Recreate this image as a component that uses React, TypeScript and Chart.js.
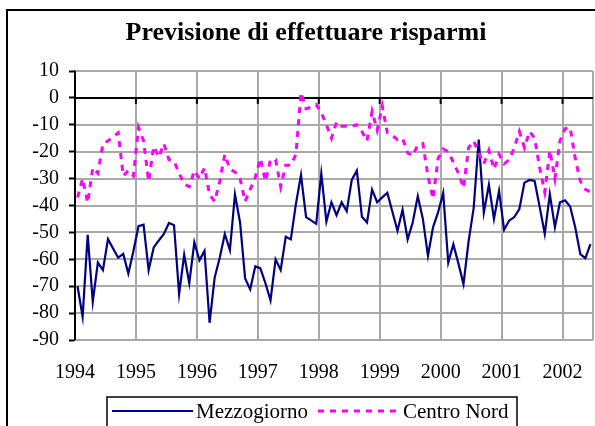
import React, { useEffect, useRef } from 'react';
import { Chart, registerables } from 'chart.js';

Chart.register(...registerables);

const TITLE = 'Previsione di effettuare risparmi';
const YEARS = ['1994', '1995', '1996', '1997', '1998', '1999', '2000', '2001', '2002'];
const MONTHS_PER_YEAR = 12;
const Y_MIN = -90;
const Y_MAX = 10;
const Y_STEP = 10;

// Monthly values, Jan 1994 - Jun 2002
const MEZZOGIORNO = [
  -70, -81.4, -50.9, -75.8, -61.2, -64, -52.5, -56, -59.4, -58, -65.3, -57,
  -47.7, -47.1, -64, -55.6, -53, -50.6, -46.5, -47.3, -72.9, -58.3, -68.9, -53.7,
  -60.4, -56.9, -83.6, -66.8, -59.4, -50.6, -56.6, -35.9, -46.3, -67.1, -71.2, -62.6,
  -63.4, -68.9, -75.3, -60, -64, -51.6, -52.6, -39.4, -28.7, -44.3, -45.5, -46.8,
  -28.1, -46, -38.8, -43.6, -38.8, -42.1, -30.5, -27, -44.2, -46.3, -34.1, -38.8,
  -37, -35.3, -42.3, -49.4, -41.6, -52.6, -46.3, -36.5, -45, -58.7, -48.1, -42.5,
  -35.3, -61.2, -54.4, -61.6, -69.2, -53.3, -41, -15.5, -42.7, -32.3, -45, -34.6,
  -49, -45.6, -44.3, -41.3, -31.5, -30.5, -30.9, -40.5, -50.6, -35.8, -48.1, -38.8,
  -38.1, -40.4, -48.1, -58.1, -59.6, -54.4,
];

const CENTRO_NORD = [
  -37, -30, -39, -26, -28, -17, -16, -14.5, -13, -29, -27, -29,
  -11, -16, -31, -18, -22, -17, -23, -23.5, -28, -32, -33, -27,
  -30, -26, -36, -38.5, -31, -21, -26.5, -27.5, -30, -38.5, -34, -29.5,
  -22.5, -31, -23, -23, -33, -25, -25, -21, 2, -4, -3.5, -2.5,
  -5.5, -10, -15, -9, -10.5, -10.5, -10.5, -10, -12.5, -16, -5, -12,
  -3, -13, -14, -15.5, -15, -20.5, -21.5, -17.5, -17, -29, -37.5, -22.5,
  -19, -20, -24, -28, -33.5, -18.5, -16, -20.5, -24.5, -19.5, -26.5, -21,
  -24.5, -23, -18.5, -12.5, -18.5, -12.5, -15, -26, -35, -19.5, -30, -16,
  -11.5, -11, -22.5, -31, -34, -35,
];

const SERIES_NAMES = ['Mezzogiorno', 'Centro Nord'];
const NAVY = '#000080';
const MAGENTA = '#FF00FF';
const GRID = '#a9a9a9';
const FONT = "'Liberation Serif', 'Times New Roman', serif";

const decorPlugin = {
  id: 'decor',
  beforeDraw(chart: any) {
    const ctx = chart.ctx;
    ctx.save();
    ctx.fillStyle = '#ffffff';
    ctx.fillRect(0, 0, chart.width, chart.height);
    ctx.strokeStyle = '#000';
    ctx.lineWidth = 2;
    ctx.strokeRect(7, 10, chart.width + 40, chart.height + 40);
    ctx.restore();
  },
  beforeDatasetsDraw(chart: any) {
    const ctx = chart.ctx;
    const xs = chart.scales.x;
    const ys = chart.scales.y;
    const area = chart.chartArea;
    const y0 = ys.getPixelForValue(0);
    ctx.save();
    ctx.lineWidth = 2;
    ctx.strokeStyle = GRID;
    ys.ticks.forEach((t: any) => {
      if (t.value === 0) return;
      const py = Math.round(ys.getPixelForValue(t.value));
      ctx.beginPath();
      ctx.moveTo(area.left, py);
      ctx.lineTo(area.right, py);
      ctx.stroke();
    });
    xs.ticks.forEach((t: any, i: number) => {
      if (i === 0) return;
      const px = Math.round(xs.getPixelForValue(t.value));
      ctx.beginPath();
      ctx.moveTo(px, area.top);
      ctx.lineTo(px, area.bottom);
      ctx.stroke();
    });
    // zero axis line with year ticks
    ctx.strokeStyle = '#000';
    ctx.lineWidth = 2;
    ctx.beginPath();
    ctx.moveTo(area.left, y0);
    ctx.lineTo(area.right, y0);
    ctx.stroke();
    YEARS.forEach((_, k) => {
      const px = xs.getPixelForValue(-0.5 + k * MONTHS_PER_YEAR);
      ctx.beginPath();
      ctx.moveTo(px, y0);
      ctx.lineTo(px, y0 + 6);
      ctx.stroke();
    });
    ctx.beginPath();
    ctx.moveTo(area.left, area.top);
    ctx.lineTo(area.left, area.bottom);
    ctx.stroke();
    ctx.restore();
  },
  afterDraw(chart: any) {
    const ctx = chart.ctx;
    ctx.save();
    ctx.fillStyle = '#000';
    ctx.font = `bold 26px ${FONT}`;
    ctx.textAlign = 'center';
    ctx.textBaseline = 'middle';
    ctx.fillText(TITLE, 306, 33);

    ctx.strokeStyle = '#000';
    ctx.lineWidth = 1.5;
    ctx.strokeRect(107, 397, 410, 40);
    const ly = 411;
    const ds = chart.data.datasets;
    const items = [
      { x0: 112, x1: 193, tx: 196 },
      { x0: 318, x1: 401, tx: 403 },
    ];
    items.forEach((it, i) => {
      const d = ds[i];
      ctx.save();
      ctx.strokeStyle = d.borderColor;
      ctx.lineWidth = d.borderWidth;
      ctx.setLineDash(d.borderDash || []);
      ctx.beginPath();
      ctx.moveTo(it.x0, ly);
      ctx.lineTo(it.x1, ly);
      ctx.stroke();
      ctx.restore();
      ctx.fillStyle = '#000';
      ctx.font = `21px ${FONT}`;
      ctx.textAlign = 'left';
      ctx.textBaseline = 'middle';
      ctx.fillText(d.label, it.tx, ly + 1);
    });
    ctx.restore();
  },
};

export default function App() {
  const ref = useRef<HTMLCanvasElement>(null);

  useEffect(() => {
    document.body.style.margin = '0';
    const canvas = ref.current;
    if (!canvas) return;
    const n = MEZZOGIORNO.length;
    const chart = new Chart(canvas, {
      type: 'line',
      data: {
        datasets: [
          {
            label: SERIES_NAMES[0],
            data: MEZZOGIORNO.map((v, i) => ({ x: i, y: v })),
            borderColor: NAVY,
            backgroundColor: NAVY,
            borderWidth: 2.2,
            pointRadius: 0,
            tension: 0,
            order: 2,
          },
          {
            label: SERIES_NAMES[1],
            data: CENTRO_NORD.map((v, i) => ({ x: i, y: v })),
            borderColor: MAGENTA,
            backgroundColor: MAGENTA,
            borderWidth: 3,
            borderDash: [6, 6],
            pointRadius: 0,
            tension: 0,
            order: 1,
          },
        ],
      },
      options: {
        animation: false,
        responsive: false,
        maintainAspectRatio: false,
        layout: { padding: { top: 71, left: 0, right: 2, bottom: 40 } },
        plugins: {
          legend: { display: false },
          title: { display: false },
          tooltip: { enabled: false },
        },
        scales: {
          x: {
            type: 'linear',
            min: -0.5,
            max: n - 0.5,
            afterBuildTicks: (scale: any) => {
              const t = YEARS.map((_, k) => ({ value: -0.5 + k * MONTHS_PER_YEAR }));
              t.push({ value: n - 0.5 });
              scale.ticks = t;
            },
            afterFit: (scale: any) => {
              scale.height = 46;
              scale.paddingLeft = 0;
              scale.paddingRight = 0;
            },
            ticks: {
              autoSkip: false,
              maxRotation: 0,
              padding: 21,
              color: '#000',
              font: { family: FONT, size: 20 },
              callback: (_v: any, idx: number) => YEARS[idx] ?? '',
            },
            grid: { display: false, drawTicks: false },
            border: { display: false },
          },
          y: {
            min: Y_MIN,
            max: Y_MAX,
            afterFit: (scale: any) => {
              scale.width = 75;
            },
            ticks: {
              stepSize: Y_STEP,
              autoSkip: false,
              padding: 10,
              color: '#000',
              font: { family: FONT, size: 20 },
            },
            grid: {
              display: true,
              drawOnChartArea: false,
              tickColor: '#000',
              tickLength: 6,
              tickWidth: 2,
            },
            border: { display: true, color: '#000', width: 2 },
          },
        },
      },
      plugins: [decorPlugin],
    } as any);
    return () => chart.destroy();
  }, []);

  return (
    <div style={{ width: 595, height: 426, overflow: 'hidden', position: 'relative' }}>
      <canvas ref={ref} width={595} height={426} style={{ display: 'block' }} />
    </div>
  );
}
